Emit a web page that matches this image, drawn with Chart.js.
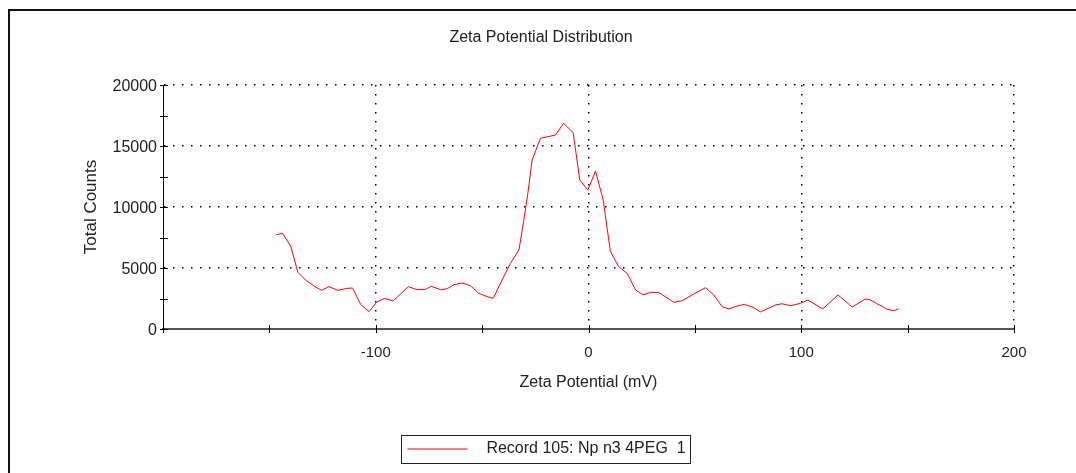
<!DOCTYPE html>
<html>
<head>
<meta charset="utf-8">
<script src="https://cdn.jsdelivr.net/npm/chart.js@4.4.1/dist/chart.umd.min.js"></script>
<style>
  html, body { margin: 0; padding: 0; background: #fff; }
  #wrap { position: relative; width: 1076px; height: 473px; overflow: hidden; }
  #frame { position: absolute; left: 8px; top: 9px; right: -10px; bottom: -10px;
           border-top: 2px solid #111; border-left: 2px solid #111; pointer-events: none; }
  canvas { position: absolute; left: 0; top: 0; }
</style>
</head>
<body>
<div id="wrap">
  <canvas id="c" width="1076" height="473"></canvas>
  <div id="frame"></div>
</div>
<script>
// ---- data ----
const zeta = [
  -146.8, -143.8, -140.0, -136.6, -133.0, -129.0, -125.5, -122.0, -117.8, -113.4,
  -110.9, -107.1, -103.2, -99.6, -95.9, -91.8, -84.7, -80.5, -76.6, -73.9,
  -69.5, -66.4, -63.3, -59.4, -55.5, -51.5, -48.4, -44.8, -40.6, -36.7,
  -32.7, -30.4, -28.5, -26.5, -22.6, -15.5, -11.7, -7.2, -4.1, -0.3,
  3.3, 6.9, 10.3, 14.2, 18.2, 22.1, 25.7, 29.1, 33.0, 40.1,
  44.0, 49.5, 55.0, 58.9, 62.8, 66.0, 69.9, 73.3, 77.7, 80.8,
  87.9, 91.0, 94.9, 99.6, 103.1, 110.1, 117.3, 123.9, 130.2, 132.5,
  140.4, 143.5, 145.8
];
const counts = [
  7730, 7840, 6800, 4650, 4020, 3520, 3170, 3470, 3170, 3330,
  3360, 2020, 1420, 2190, 2510, 2300, 3470, 3220, 3250, 3500,
  3220, 3300, 3630, 3770, 3550, 2920, 2700, 2510, 4020, 5380,
  6480, 8930, 11120, 13850, 15630, 15900, 16860, 16090, 12210, 11390,
  12950, 10570, 6340, 5110, 4560, 3200, 2790, 3000, 3000, 2190,
  2320, 2870, 3390, 2790, 1830, 1640, 1890, 2020, 1750, 1400,
  1970, 2070, 1910, 2100, 2380, 1640, 2790, 1800, 2460, 2380,
  1610, 1500, 1660
];
const seriesLabel = 'Record 105: Np n3 4PEG  1';
const xTickLabels = [-100, 0, 100, 200];
const yTickLabels = [0, 5000, 10000, 15000, 20000];

const points = zeta.map((v, i) => ({ x: v, y: counts[i] }));

// legend sample: a red line with some space after it
const legendSample = document.createElement('canvas');
legendSample.width = 82;
legendSample.height = 3;
(function () {
  const g = legendSample.getContext('2d');
  g.fillStyle = 'rgb(255,0,0)';
  g.fillRect(11, 1, 60, 1);
})();

const frameTicks = {
  id: 'frameTicks',
  afterDraw(chart) {
    const { ctx, scales: { x, y } } = chart;
    ctx.save();
    ctx.strokeStyle = '#000';
    ctx.lineWidth = 1;
    ctx.beginPath();
    x.ticks.forEach(t => {
      const px = Math.round(x.getPixelForValue(t.value)) + 0.5;
      ctx.moveTo(px, x.top - 4); ctx.lineTo(px, x.top + 4);
    });
    y.ticks.forEach(t => {
      const py = Math.round(y.getPixelForValue(t.value)) + 0.5;
      ctx.moveTo(y.right - 3, py); ctx.lineTo(y.right + 5, py);
    });
    ctx.stroke();
    const hb = chart.legend && chart.legend.legendHitBoxes && chart.legend.legendHitBoxes[0];
    if (hb) {
      ctx.strokeStyle = '#222';
      ctx.lineWidth = 1;
      const l = Math.round(hb.left + 5), r = Math.round(hb.left + hb.width + 4);
      const t = Math.round(hb.top - 6), b = Math.round(hb.top + hb.height + 6);
      ctx.strokeRect(l + 0.5, t + 0.5, r - l, b - t);
    }
    ctx.restore();
  }
};

new Chart(document.getElementById('c'), {
  type: 'scatter',
  data: {
    datasets: [{
      label: seriesLabel,
      data: points,
      showLine: true,
      borderColor: 'rgb(255,0,0)',
      backgroundColor: 'rgb(255,0,0)',
      borderWidth: 1,
      pointRadius: 0,
      tension: 0
    }]
  },
  options: {
    responsive: false,
    animation: false,
    devicePixelRatio: 1,
    layout: { padding: { left: 68, right: 62, top: 0, bottom: 6 } },
    plugins: {
      title: {
        display: true,
        text: 'Zeta Potential Distribution',
        color: '#222',
        font: { family: 'Liberation Sans, Arial, sans-serif', size: 16, weight: 'normal' },
        padding: { top: 28, bottom: 37.8 }
      },
      legend: {
        display: true,
        position: 'bottom',
        labels: {
          usePointStyle: true,
          pointStyle: legendSample,
          pointStyleWidth: 82,
          color: '#222',
          padding: 10,
          font: { family: 'Liberation Sans, Arial, sans-serif', size: 16 }
        }
      },
      tooltip: { enabled: false }
    },
    scales: {
      x: {
        type: 'linear',
        min: -200, max: 200,
        afterFit: s => { s.height = 102; },
        ticks: {
          stepSize: 50,
          autoSkip: false,
          maxRotation: 0,
          padding: 15,
          color: '#222',
          font: { family: 'Liberation Sans, Arial, sans-serif', size: 15 },
          callback: v => xTickLabels.includes(v) ? String(v) : ''
        },
        grid: {
          drawTicks: false,
          lineWidth: 1.5,
          color: c => (c.tick && xTickLabels.includes(c.tick.value)) ? '#000' : 'rgba(0,0,0,0)'
        },
        border: { display: true, color: '#555', width: 2, dash: [1.5, 7.5] },
        title: {
          display: true,
          text: 'Zeta Potential (mV)',
          color: '#222',
          font: { family: 'Liberation Sans, Arial, sans-serif', size: 16 },
          padding: { top: 0, bottom: 39 }
        }
      },
      y: {
        type: 'linear',
        min: 0, max: 20000,
        afterFit: s => { s.width = 95; },
        ticks: {
          stepSize: 2500,
          autoSkip: false,
          padding: 6,
          labelOffset: 2,
          color: '#222',
          font: { family: 'Liberation Sans, Arial, sans-serif', size: 16 },
          callback: v => yTickLabels.includes(v) ? String(v) : ''
        },
        grid: {
          drawTicks: false,
          lineWidth: 1.5,
          color: c => (c.tick && c.tick.value !== 0 && yTickLabels.includes(c.tick.value)) ? '#000' : 'rgba(0,0,0,0)'
        },
        border: { display: true, color: '#000', width: 1, dash: [1.5, 7.5] },
        title: {
          display: true,
          text: 'Total Counts',
          color: '#222',
          font: { family: 'Liberation Sans, Arial, sans-serif', size: 17 },
          padding: { top: 12.8, bottom: 0 }
        }
      }
    }
  },
  plugins: [frameTicks]
});
</script>
</body>
</html>
